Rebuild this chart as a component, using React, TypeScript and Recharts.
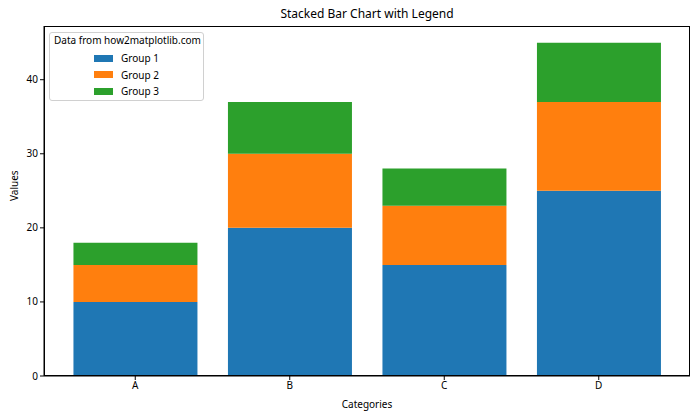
import { BarChart, Bar, XAxis, YAxis } from 'recharts'

const categories = ['A', 'B', 'C', 'D']
const group1 = [10, 20, 15, 25]
const group2 = [5, 10, 8, 12]
const group3 = [3, 7, 5, 8]
const yTicks = [0, 10, 20, 30, 40]

const series = [
    { key: 'g1', name: 'Group 1', color: '#1f77b4', values: group1 },
    { key: 'g2', name: 'Group 2', color: '#ff7f0e', values: group2 },
    { key: 'g3', name: 'Group 3', color: '#2ca02c', values: group3 },
]

const data = categories.map((cat, i) => ({
    cat,
    g1: group1[i],
    g2: group2[i],
    g3: group3[i],
}))

const font = '"Noto Sans", "DejaVu Sans", sans-serif'

function LegendBox() {
    return (
        <div
            style={{
                position: 'absolute',
                left: 49,
                top: 32,
                border: '1px solid #d0d0d0',
                borderRadius: 3,
                background: 'rgba(255,255,255,0.8)',
                width: 155,
                height: 69,
                boxSizing: 'border-box',
                fontFamily: font,
                fontSize: 10,
                color: '#000',
            }}
        >
            <div style={{ position: 'absolute', left: 4, top: 0, lineHeight: '15px', whiteSpace: 'nowrap' }}>
                Data from how2matplotlib.com
            </div>
            {series.map((s, i) => (
                <div key={s.key} style={{ position: 'absolute', left: 44, top: 18 + i * 16.5, display: 'flex', alignItems: 'center', height: 14 }}>
                    <span style={{ display: 'inline-block', width: 19, height: 7, background: s.color }} />
                    <span style={{ marginLeft: 8, lineHeight: '14px' }}>{s.name}</span>
                </div>
            ))}
        </div>
    )
}

export default function App() {
    return (
        <div style={{ position: 'absolute', left: 0, top: 0, width: 700, height: 420, background: '#fff', fontFamily: font }}>
            <div style={{ position: 'absolute', left: 44, width: 646, top: 5, textAlign: 'center', fontSize: 12, color: '#000' }}>
                Stacked Bar Chart with Legend
            </div>
            <BarChart
                width={700}
                height={420}
                data={data}
                margin={{ top: 26, right: 10, left: 0, bottom: 0 }}
                barCategoryGap="10%"
            >
                <XAxis
                    dataKey="cat"
                    height={44}
                    padding={{ left: 14, right: 14 }}
                    stroke="#000"
                    tickSize={4}
                    tick={{ fontSize: 10, fill: '#000', fontFamily: font }}
                    tickLine={{ stroke: '#000' }}
                    label={{ value: 'Categories', position: 'insideBottom', offset: 12, fontSize: 10, fill: '#000', fontFamily: font }}
                />
                <YAxis
                    width={44}
                    domain={[0, 47.25]}
                    ticks={yTicks}
                    stroke="#000"
                    tickSize={4}
                    tick={{ fontSize: 10, fill: '#000', fontFamily: font }}
                    label={{ value: 'Values', angle: -90, position: 'insideLeft', offset: 14, fontSize: 10, fill: '#000', fontFamily: font }}
                />
                {series.map((s) => (
                    <Bar key={s.key} dataKey={s.key} name={s.name} stackId="a" fill={s.color} isAnimationActive={false} />
                ))}
            </BarChart>
            {/* plot frame (top/right spines) */}
            <div
                style={{
                    position: 'absolute',
                    left: 44,
                    top: 26,
                    width: 646,
                    height: 350,
                    border: '1px solid #000',
                    boxSizing: 'border-box',
                    pointerEvents: 'none',
                }}
            />
            <LegendBox />
        </div>
    )
}
